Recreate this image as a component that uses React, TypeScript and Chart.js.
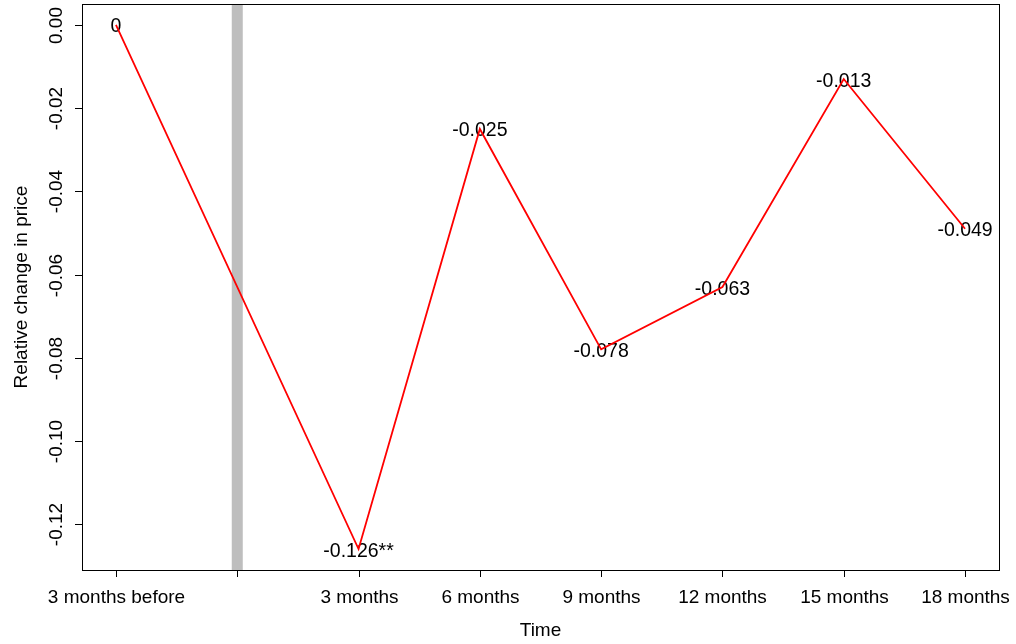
import React, { useEffect, useRef } from "react";
import { Chart, registerables } from "chart.js";

Chart.register(...registerables);

// ---- data ----
const pointPositions = [0, 2, 3, 4, 5, 6, 7];
const priceChange = [0, -0.126, -0.025, -0.078, -0.063, -0.013, -0.049];
const pointLabels = ["0", "-0.126**", "-0.025", "-0.078", "-0.063", "-0.013", "-0.049"];
const xTickPositions = [0, 1, 2, 3, 4, 5, 6, 7];
const xTickLabels = ["3 months before", "", "3 months", "6 months", "9 months", "12 months", "15 months", "18 months"];
const yTickValues = [0, -0.02, -0.04, -0.06, -0.08, -0.1, -0.12];
const yTickLabels = ["0.00", "-0.02", "-0.04", "-0.06", "-0.08", "-0.10", "-0.12"];
const eventPosition = 1;
const xMin = -0.28;
const xMax = 7.28;
const yMin = -0.13104;
const yMax = 0.00504;

const FONT = '"Liberation Sans", Arial, sans-serif';

const labelsPlugin = {
  id: "pointLabels",
  beforeDatasetsDraw(chart: any) {
    const ctx = chart.ctx;
    const xs = chart.scales.x;
    const ys = chart.scales.y;
    ctx.save();
    ctx.fillStyle = "#000";
    ctx.font = `19.5px ${FONT}`;
    ctx.textAlign = "center";
    ctx.textBaseline = "alphabetic";
    pointPositions.forEach((p, i) => {
      ctx.fillText(pointLabels[i], xs.getPixelForValue(p), ys.getPixelForValue(priceChange[i]) + 7.5);
    });
    ctx.restore();
  },
};

const axesPlugin = {
  id: "rAxes",
  afterDraw(chart: any) {
    const ctx = chart.ctx;
    const { left, right, top, bottom } = chart.chartArea;
    const xs = chart.scales.x;
    const ys = chart.scales.y;
    ctx.save();
    ctx.strokeStyle = "#000";
    ctx.lineWidth = 1;
    ctx.strokeRect(Math.round(left) + 0.5, Math.round(top) + 0.5, Math.round(right - left), Math.round(bottom - top));
    ctx.fillStyle = "#000";
    ctx.font = `19px ${FONT}`;
    // x ticks
    ctx.textAlign = "center";
    ctx.textBaseline = "alphabetic";
    xTickPositions.forEach((p, i) => {
      const px = Math.round(xs.getPixelForValue(p)) + 0.5;
      ctx.beginPath();
      ctx.moveTo(px, bottom);
      ctx.lineTo(px, bottom + 7);
      ctx.stroke();
      if (xTickLabels[i]) ctx.fillText(xTickLabels[i], px, bottom + 33);
    });
    // y ticks
    yTickValues.forEach((v, i) => {
      const py = Math.round(ys.getPixelForValue(v)) + 0.5;
      ctx.beginPath();
      ctx.moveTo(left, py);
      ctx.lineTo(left - 7, py);
      ctx.stroke();
      ctx.save();
      ctx.translate(left - 20, py);
      ctx.rotate(-Math.PI / 2);
      ctx.textAlign = "center";
      ctx.textBaseline = "alphabetic";
      ctx.fillText(yTickLabels[i], 0, 0);
      ctx.restore();
    });
    // titles
    ctx.textAlign = "center";
    ctx.fillText("Time", (left + right) / 2, bottom + 66);
    ctx.save();
    ctx.translate(27, (top + bottom) / 2);
    ctx.rotate(-Math.PI / 2);
    ctx.fillText("Relative change in price", 0, 0);
    ctx.restore();
    ctx.restore();
  },
};

export default function App() {
  const ref = useRef<HTMLCanvasElement | null>(null);
  useEffect(() => {
    document.body.style.margin = "0";
    if (!ref.current) return;
    const chart = new Chart(ref.current, {
      type: "line",
      data: {
        datasets: [
          {
            data: pointPositions.map((p, i) => ({ x: p, y: priceChange[i] })),
            borderColor: "#FF0000",
            borderWidth: 1.8,
            pointRadius: 0,
            tension: 0,
            fill: false,
            order: 0,
          },
          {
            data: [
              { x: eventPosition, y: yMin },
              { x: eventPosition, y: yMax },
            ],
            borderColor: "#BEBEBE",
            borderWidth: 11,
            borderCapStyle: "butt",
            pointRadius: 0,
            fill: false,
            order: 1,
          },
        ],
      },
      options: {
        responsive: false,
        animation: false,
        layout: { padding: { left: 82, top: 4, right: 17, bottom: 74 } },
        plugins: { legend: { display: false }, tooltip: { enabled: false } },
        scales: {
          x: { type: "linear", min: xMin, max: xMax, display: false },
          y: { type: "linear", min: yMin, max: yMax, display: false },
        },
      },
      plugins: [labelsPlugin, axesPlugin],
    } as any);
    return () => chart.destroy();
  }, []);
  return (
    <div style={{ position: "absolute", left: 0, top: 0, width: 1016, height: 644, background: "#fff" }}>
      <canvas ref={ref} width={1016} height={644} style={{ display: "block" }} />
    </div>
  );
}
